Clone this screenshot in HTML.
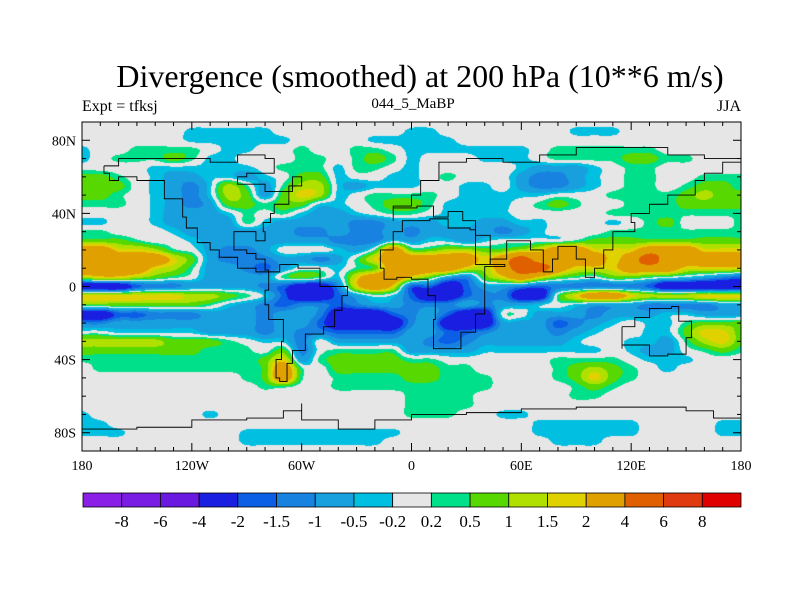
<!DOCTYPE html>
<html><head><meta charset="utf-8"><style>
body{margin:0;background:#fff;}
#wrap{position:relative;width:800px;height:600px;background:#fff;font-family:"Liberation Serif",serif;}
.t{position:absolute;white-space:nowrap;color:#000;}
</style></head><body>
<div id="wrap">
<div class="t" style="left:0;width:840px;text-align:center;top:58px;font-size:32px;">Divergence (smoothed) at 200 hPa (10**6 m/s)</div>
<div class="t" style="left:82px;top:98px;font-size:16px;">Expt = tfksj</div>
<div class="t" style="left:313px;width:200px;text-align:center;top:96px;font-size:15px;">044_5_MaBP</div>
<div class="t" style="right:59px;top:98px;font-size:16px;">JJA</div>
<canvas id="cv" width="659" height="329" style="position:absolute;left:82px;top:122px;"></canvas>
<svg id="sv" width="800" height="600" style="position:absolute;left:0;top:0;"></svg>
</div>
<script>
const lons=[-180,-170,-160,-150,-140,-130,-120,-110,-100,-90,-80,-70,-60,-50,-40,-30,-20,-10,0,10,20,30,40,50,60,70,80,90,100,110,120,130,140,150,160,170,180];
const lats=[90,85,80,75,70,65,60,55,50,45,40,35,30,25,20,15,10,5,0,-5,-10,-15,-20,-25,-30,-35,-40,-45,-50,-55,-60,-65,-70,-75,-80,-85,-90];
const westVals=[
[0,0,0,0,0,0,0,0,0,0,0,0,0,0,0,0,0,0],
[0,0,0,0,0,0,-0.3,-0.3,-0.3,-0.3,-0.3,0,0,0,0,0,0,0],
[0,0,0,0,0,0,-0.3,-0.3,-0.3,-0.3,-0.3,-0.3,0,0,0,0,-0.3,-0.3],
[-0.3,0,0,0.3,0.3,0.3,0.3,0,-0.3,-0.3,0,0,0.3,0,0,0.3,0.3,0],
[-0.3,0,0.3,0.3,0.3,0.7,0.3,-0.3,-0.3,0,0,0,0.3,0.3,0,0.3,0.7,0.3],
[0,0,0,0,-0.3,-0.3,-0.3,-0.3,-0.3,-0.3,0,0.3,0.3,0.3,-0.3,0.3,0.3,0],
[0.7,0.7,0.3,0,-0.3,-0.7,-0.7,-0.3,-0.3,-0.7,-0.3,0,0.7,0.7,-0.3,0,0,-0.3],
[0.7,0.7,0.7,0,-0.3,-0.7,-1.2,-0.3,1.2,0.3,-0.7,0.3,1.2,1.2,-0.3,-0.7,-0.3,-0.3],
[0.7,0.7,0.3,0,-0.3,-0.7,-1.2,-0.3,1.2,0.7,-0.7,0.7,1.7,1.2,-0.3,0,0.3,0.3],
[0.3,0.3,0.3,0,-0.3,-0.7,-1.2,-0.7,0.7,0.7,0.3,0.7,0.7,-0.3,-0.3,0,0.3,0.7],
[0,0,0,0,-0.3,-0.7,-0.7,-0.7,-0.3,0.3,0,0.3,-0.3,-0.7,-0.7,-0.3,0,0.3],
[-0.3,-0.3,0,0,-0.3,-0.7,-0.7,-0.7,-0.7,0.3,-0.3,-0.7,-0.7,-0.7,-0.7,-1.2,-1.2,-0.7],
[0.3,0.3,0,0,0,-0.3,-0.7,-0.7,-0.7,-0.7,-0.7,-0.7,-1.2,-1.2,-0.7,-1.2,-1.2,-0.7],
[0.7,0.7,0.7,0.3,0,0,-0.3,-0.7,-0.7,-0.7,-0.7,-0.7,-0.7,-0.7,-1.2,-1.2,-1.2,-0.3],
[3,3,1.7,1.7,1.2,0.3,0,-0.7,-1.2,-1.2,-0.7,0,0,0,-0.3,-0.7,0.3,3],
[3,3,3,3,3,1.7,0.7,-0.7,-1.2,-1.2,-1.2,-0.7,-0.7,-1.2,-0.7,0.3,1.7,3],
[3,3,3,3,1.7,1.2,0.3,-0.7,-0.7,-1.2,-1.7,-0.7,0,0,-0.3,0.3,0.7,3],
[1.2,1.7,1.7,1.2,0.7,0.3,0,-0.7,-0.7,-0.7,-0.7,0.3,0.7,0.3,-0.3,1.7,3,3],
[-3,-3,-3,-1.7,-1.2,-1.2,-0.7,-0.7,-0.7,-0.7,-1.2,-1.7,-3,-3,-1.2,1.7,3,1.7],
[1.7,1.7,1.7,1.7,1.7,1.7,1.2,1.2,0.7,0.3,-0.3,-1.7,-3,-3,-1.7,-0.7,0,-0.3],
[0.7,0.7,0.7,0.7,0.7,0.7,0.7,0.3,-0.3,-0.7,-1.2,-1.7,-1.2,-1.2,-1.7,-1.2,-0.7,-0.7],
[-3,-3,-1.7,-1.7,-1.2,-1.2,-1.2,-0.7,-0.7,-0.7,-1.2,-0.7,-0.7,-1.2,-3,-3,-3,-1.7],
[-1.2,-1.2,-0.7,-0.7,-0.7,-0.7,-0.7,-0.7,-0.7,-0.7,-1.2,-0.7,-0.7,-1.7,-3,-3,-3,-3],
[0,0,-0.3,-0.3,-0.3,-0.3,-0.3,-0.7,-0.7,-0.7,-1.2,-0.7,-1.2,-1.2,-1.7,-1.7,-1.7,-1.7],
[1.2,1.2,1.2,1.2,1.2,0.7,0.7,0.7,0.3,0,-0.3,-0.3,-1.2,0,-0.7,-0.7,-0.7,-0.7],
[0.7,0.7,0.7,0.7,0.7,0.7,0.7,0.3,0.3,0.3,0,0.7,-1.2,0,0.3,0.3,0.3,0.3],
[0.3,0.3,0.3,0.3,0.3,0.3,0.3,0.3,0.3,0.3,0.7,1.7,-0.7,0.3,0.7,0.7,0.7,0.7],
[0,0.3,0.3,0.3,0.3,0.3,0.3,0.3,0.3,0.3,0.7,3,0.3,0,0.7,0.7,0.7,0.7],
[0,0,0,0,0,0,0,0,0,0.3,0.7,3,0.3,0,0.3,0.3,0.3,0.3],
[0,0,0,0,0,0,0,0,0,0,0.3,0.3,0,0,0.3,0.3,0.3,0.3],
[0,0,0,0,0,0,0,0,0,0,0,0,0,0,0,0,0,0],
[0,0,0,0,0,0,0,0,0,0,0,0,0,0,0,0,0,0],
[-0.3,0,0,0,0,0,0,-0.3,0,0,0,0,0,0,0,0,0,0],
[-0.3,-0.3,0,0,0,0,0,0,0,0,0,0,0,0,0,0,0,0],
[-0.3,-0.3,-0.3,0,0,0,0,0,0,-0.3,-0.3,-0.3,-0.3,-0.3,-0.3,-0.3,-0.3,-0.3],
[0,0,0,0,0,0,0,0,0,-0.3,-0.3,-0.3,-0.3,-0.3,-0.3,-0.3,-0.3,0],
[0,0,0,0,0,0,0,0,0,0,0,0,0,0,0,0,0,0]];
const eastVals=[
[0,0,0,0,0,0,0,0,0,0,0,0,0,0,0,0,0,0,0],
[-0.3,-0.3,0,0,0,0,0,0,0,-0.3,-0.3,-0.3,0,0,0,0,0,0,0],
[-0.3,-0.3,-0.3,0,0,0,0,0,0,0,0,0,0,0,0,0,0,0,0],
[-0.3,-0.3,-0.3,-0.3,-0.3,-0.3,-0.3,0,0.3,0.3,0.3,0.3,0.3,0.3,0,0,0,0,0],
[-0.3,0,0,0,-0.3,-0.3,-0.3,0,0.3,0.3,0.3,0.3,0.7,0.7,0.3,0.3,0,0,0],
[-0.3,0,0,0,0,0,-0.3,-0.7,-0.7,-0.7,-0.3,0,0.3,0.3,0,0,0,0,0],
[-0.3,0,0.3,0,0,0,-0.7,-1.2,-1.2,-0.7,-0.3,0,0.3,0.3,0,0,0.3,0.3,0.3],
[-0.3,0,0,-0.3,-0.3,0,-0.7,-1.2,-1.2,-0.7,-0.3,0,0.3,0.3,0,0.3,0.7,0.7,0.3],
[0.3,0.3,0,-0.3,-0.3,-0.3,-0.3,-0.3,0,0,0,0.3,0.3,0.3,0.3,0.7,1.2,0.7,0.7],
[0.7,0.3,-0.3,-0.3,-0.3,-0.3,0,0.3,0.7,0.3,0,0,0.3,0.3,0.3,0.7,0.7,0.7,0.7],
[0.3,0,-0.3,-0.3,-0.3,-0.3,0,0,0,0,0,0.3,0.3,0.3,0.3,0.3,0.3,0.3,0.3],
[-0.7,-0.7,-0.3,-0.3,-0.7,-0.7,-0.3,-0.3,0,0,0,-0.3,0,0.3,0.7,0,0,0,0.3],
[-1.2,-0.7,-0.7,-0.7,-0.7,-1.2,-0.7,-0.3,0,0,0,0.3,0.3,0.3,0.3,0.3,0.3,0.3,0.3],
[-0.7,-0.3,-0.3,-0.7,-0.3,0,0,0,0,0.3,0.7,0.7,0.7,0.7,0.7,0.7,0.7,0.7,0.7],
[0.7,0.7,1.2,1.2,0.7,0.7,1.2,1.7,3,3,1.7,1.7,1.7,3,3,3,1.7,1.7,1.7],
[3,3,3,3,1.7,3,5,3,3,3,3,1.7,3,5,3,3,3,3,3],
[3,3,3,1.7,1.2,3,5,5,3,1.7,1.7,1.7,3,3,3,1.7,1.7,1.7,1.7],
[1.7,0.7,-0.7,-1.2,0.7,1.7,3,1.7,0.7,0.3,0,0.7,0.7,0.3,0,-0.3,-0.7,-1.2,-1.7],
[-1.7,-1.7,-3,-1.7,-0.7,-0.7,-1.2,-1.7,-1.2,-1.2,-1.2,-1.2,-1.2,-1.7,-3,-3,-3,-3,-3],
[-1.7,-3,-3,-1.7,-1.2,-1.2,-3,-3,0.3,1.7,3,3,1.7,1.2,1.2,1.2,1.7,1.7,1.7],
[-1.2,-1.2,-1.2,-0.7,-1.2,-0.7,-0.7,-0.3,0,-0.3,-0.7,-0.7,-0.7,-1.2,-1.2,-1.2,-1.2,-0.7,-0.7],
[-1.2,-0.7,-1.7,-3,-3,0,0,-0.7,-0.7,-0.7,-1.2,-0.7,-0.7,-0.7,-0.3,-0.3,-0.7,-0.7,-0.7],
[-1.2,-0.7,-3,-3,-3,-0.7,-0.7,-0.7,-1.7,-1.2,-0.7,-0.3,0,-0.3,-0.3,0.3,0.7,0.7,0.7],
[-0.7,-0.7,-1.7,-1.7,-1.2,-0.7,-0.7,-0.7,-1.2,-0.7,-0.3,0,0,-0.3,-0.3,0.7,1.7,1.7,0.7],
[-0.7,-1.2,-1.7,-1.2,-0.7,-0.7,-0.7,-0.7,-0.7,-0.3,0,0,-0.3,-0.3,-0.7,0.3,1.2,1.7,0.7],
[-0.7,-0.7,-0.7,-0.7,-0.3,-0.3,-0.3,-0.3,-0.3,-0.3,-0.3,0,-0.3,-0.7,-0.7,0,0.3,0.7,0.3],
[0.3,0.3,0,0,0,0,0,0,0.3,0.3,0.3,0.3,0,-0.3,-0.3,-0.3,0,0,0],
[0.7,0.7,0.3,0.3,0,0,0,0,0.3,0.7,1.2,0.7,0.3,0,-0.3,0,0,0,0],
[0.7,0.7,0.3,0.3,0.3,0,0,0,0.3,0.7,1.7,0.7,0.3,0,0,0,0,0,0],
[0.3,0.3,0.3,0.3,0.3,0,0,0,0,0.3,0.7,0.3,0,0,0,0,0,0,0],
[0.3,0.3,0.3,0.3,0,0,0,0,0,0.3,0.3,0,0,0,0,0,0,0,0],
[0.3,0.3,0.3,0.3,0,0,0,0,0,0,0,0,0,0,0,0,0,0,0],
[0.3,0.3,0.3,0,0,-0.3,-0.3,0,0,0,0,0,0,0,0,0,0,0,0],
[0,0,0,0,0,0,0,-0.3,-0.3,-0.3,-0.3,-0.3,-0.3,0,0,0,0,-0.3,-0.3],
[0,0,0,0,0,0,0,-0.3,-0.3,-0.3,-0.3,-0.3,-0.3,0,0,0,0,-0.3,-0.3],
[0,0,0,0,0,0,0,0,-0.3,-0.3,-0.3,0,0,0,0,0,0,0,0],
[0,0,0,0,0,0,0,0,0,0,0,0,0,0,0,0,0,0,0]];
const levelBounds=[-8,-6,-4,-2,-1.5,-1,-0.5,-0.2,0.2,0.5,1,1.5,2,4,6,8];
const levelLabels=["-8","-6","-4","-2","-1.5","-1","-0.5","-0.2","0.2","0.5","1","1.5","2","4","6","8"];
const levelColors=["#8a1fe8","#7a1de4","#6a1ae0","#1a1ee0","#0a5fe6","#1882e0","#18a0de","#00bfe0","#e6e6e6","#00e08a","#56d800","#b0e000","#e0d200","#e0a000","#e06000","#e03a10","#e00000"];
const lonTicks=[-180,-120,-60,0,60,120,180];
const lonTickLabels=["180","120W","60W","0","60E","120E","180"];
const latTicks=[80,40,0,-40,-80];
const latTickLabels=["80N","40N","0","40S","80S"];

const PX=82,PY=122,PW=659,PH=329;
const xOf=lon=>PX+(lon+180)/360*PW;
const yOf=lat=>PY+(90-lat)/180*PH;
const grid=westVals.map((r,i)=>r.concat(eastVals[i]));
function hex(c){return [parseInt(c.substr(1,2),16),parseInt(c.substr(3,2),16),parseInt(c.substr(5,2),16)];}
const rgb=levelColors.map(hex);
function cr(p0,p1,p2,p3,t){return p1+0.5*t*(p2-p0+t*(2*p0-5*p1+4*p2-p3+t*(3*(p1-p2)+p3-p0)));}
function g(j,i){j=Math.max(0,Math.min(lats.length-1,j));i=Math.max(0,Math.min(lons.length-1,i));return grid[j][i];}
function valAt(lon,lat){
  const fi=(lon-lons[0])/(lons[1]-lons[0]);const fj=(lats[0]-lat)/(lats[0]-lats[1]);
  let i=Math.max(0,Math.min(Math.floor(fi),lons.length-2)),j=Math.max(0,Math.min(Math.floor(fj),lats.length-2));
  const a=fi-i,b=fj-j;const r=[];
  for(let k=-1;k<=2;k++)r.push(cr(g(j+k,i-1),g(j+k,i),g(j+k,i+1),g(j+k,i+2),a));
  return cr(r[0],r[1],r[2],r[3],b);
}
const cv=document.getElementById('cv');const ctx=cv.getContext('2d');
const img=ctx.createImageData(PW,PH);
for(let y=0;y<PH;y++){const lat=90-(y+0.5)/PH*180;
  for(let x=0;x<PW;x++){const lon=-180+(x+0.5)/PW*360;const v=valAt(lon,lat);
    let k=0;while(k<levelBounds.length&&v>=levelBounds[k])k++;
    const c=rgb[k];const o=(y*PW+x)*4;img.data[o]=c[0];img.data[o+1]=c[1];img.data[o+2]=c[2];img.data[o+3]=255;}}
ctx.putImageData(img,0,0);

const NS='http://www.w3.org/2000/svg';const sv=document.getElementById('sv');
function mk(tag,attrs,parent){const e=document.createElementNS(NS,tag);for(const k in attrs)e.setAttribute(k,attrs[k]);(parent||sv).appendChild(e);return e;}
const coasts=[
[[-168,66],[-160,70],[-140,70],[-125,70],[-110,68],[-95,72],[-80,70],[-75,62],[-90,60],[-95,56],[-80,52],[-65,60],[-60,55],[-67,45],[-75,40],[-77,35],[-81,30],[-80,25],[-85,30],[-97,28],[-97,20],[-90,18],[-85,15],[-80,9],[-78,8],[-85,10],[-95,16],[-105,20],[-110,24],[-117,32],[-123,38],[-125,48],[-135,58],[-150,60],[-160,58],[-165,62],[-168,66]],
[[-78,8],[-72,12],[-62,10],[-50,0],[-35,-5],[-38,-13],[-42,-22],[-48,-26],[-58,-35],[-65,-42],[-68,-52],[-72,-50],[-74,-40],[-71,-30],[-70,-18],[-78,-10],[-80,-2],[-78,8]],
[[-15,10],[-17,20],[-10,30],[-5,36],[10,37],[20,32],[32,31],[35,28],[43,12],[51,11],[40,-2],[40,-15],[35,-25],[27,-34],[18,-34],[12,-18],[13,-5],[9,4],[0,5],[-8,4],[-15,10]],
[[-10,36],[-10,44],[0,50],[5,58],[15,68],[30,70],[50,68],[70,72],[90,76],[110,76],[140,72],[160,70],[180,68],[170,62],[160,58],[155,50],[140,45],[130,40],[120,35],[122,30],[110,20],[105,10],[100,5],[95,15],[90,22],[80,15],[77,8],[72,20],[65,25],[57,25],[52,15],[43,12],[35,28],[35,36],[28,41],[20,38],[12,44],[3,43],[-10,36]],
[[115,-22],[122,-17],[130,-12],[137,-12],[142,-11],[146,-19],[153,-28],[150,-37],[140,-38],[130,-32],[115,-34],[115,-22]],
[[-180,-78],[-150,-77],[-120,-73],[-90,-72],[-70,-68],[-60,-64],[-60,-73],[-40,-78],[-20,-73],[0,-70],[30,-69],[60,-67],[90,-66],[120,-66],[150,-68],[165,-72],[180,-78]]
];
const cg=mk('g',{fill:'none',stroke:'#000','stroke-width':'0.9'});


coasts.forEach(c=>{let d='';c.forEach((p,i)=>{const x=xOf(p[0]),y=yOf(p[1]);if(i===0)d+='M'+x+' '+y;else d+='H'+x+'V'+y;});mk('path',{d:d},cg);});
const fr=mk('rect',{x:PX,y:PY,width:PW,height:PH,fill:'none',stroke:'#000','stroke-width':1});


const tg=mk('g',{stroke:'#000','stroke-width':1});
for(let lon=-180;lon<=180;lon+=10){const x=xOf(lon);const L=(lon%60===0)?8:4;
  mk('line',{x1:x,y1:PY,x2:x,y2:PY+L},tg);mk('line',{x1:x,y1:PY+PH,x2:x,y2:PY+PH-L},tg);}
for(let lat=-90;lat<=90;lat+=10){const y=yOf(lat);const L=(lat%40===0)?8:4;
  mk('line',{x1:PX,y1:y,x2:PX+L,y2:y},tg);mk('line',{x1:PX+PW,y1:y,x2:PX+PW-L,y2:y},tg);}
lonTicks.forEach((lon,i)=>{const t=mk('text',{x:xOf(lon),y:470,'text-anchor':'middle','font-size':'14','font-family':'Liberation Serif, serif'});t.textContent=lonTickLabels[i];

});
latTicks.forEach((lat,i)=>{const t=mk('text',{x:76,y:yOf(lat)+5,'text-anchor':'end','font-size':'14','font-family':'Liberation Serif, serif'});t.textContent=latTickLabels[i];

});
const CX=83,CY=493,CW=658,CH=14,bw=CW/levelColors.length;
levelColors.forEach((c,i)=>{const r=mk('rect',{x:CX+i*bw,y:CY,width:bw,height:CH,fill:c,stroke:'#000','stroke-width':0.8});

});
levelLabels.forEach((l,i)=>{const t=mk('text',{x:CX+(i+1)*bw,y:527,'text-anchor':'middle','font-size':'17','font-family':'Liberation Serif, serif'});t.textContent=l;

});
</script>
</body></html>
